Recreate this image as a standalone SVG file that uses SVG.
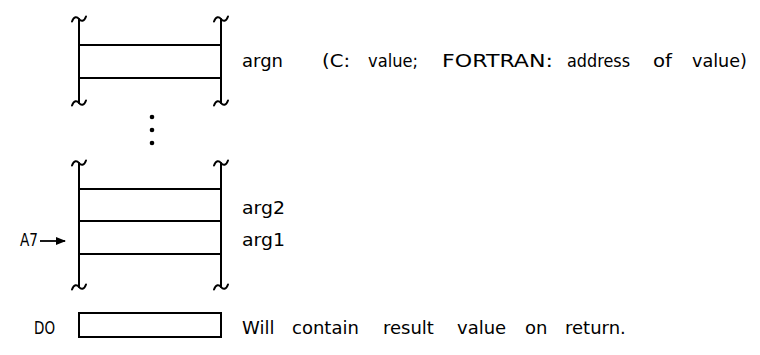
<svg xmlns="http://www.w3.org/2000/svg" xmlns:xlink="http://www.w3.org/1999/xlink" width="760" height="355" viewBox="0 0 760 355">
<style>
.ln{stroke:#000;stroke-width:2;fill:none;stroke-linecap:round}
.hl{stroke:#000;stroke-width:1.8;fill:none}
.tx{font-family:"DejaVu Sans","Liberation Sans",sans-serif;font-size:18px;fill:#000}
</style>
<defs>
<path id="tilde" d="M-7,2.5 C-5,-3 -2,-2.5 0,0 S5,3 7,-2.5" class="ln"/>
<marker id="ah" markerWidth="10" markerHeight="8" refX="9" refY="4" orient="auto" markerUnits="userSpaceOnUse">
<path d="M0,0 L10,4 L0,8 Z" fill="#000"/>
</marker>
</defs>
<rect width="760" height="355" fill="#fff"/>
<g id="stack-argn">
<line class="ln" x1="79" y1="19" x2="79" y2="103"/>
<line class="ln" x1="221" y1="19" x2="221" y2="103"/>
<use xlink:href="#tilde" x="79" y="19"/>
<use xlink:href="#tilde" x="221" y="19"/>
<use xlink:href="#tilde" x="79" y="103"/>
<use xlink:href="#tilde" x="221" y="103"/>
<line class="hl" x1="79" y1="45" x2="221" y2="45"/>
<line class="hl" x1="79" y1="78" x2="221" y2="78"/>
<text class="tx" x="242" y="67" textLength="41" lengthAdjust="spacingAndGlyphs">argn</text>
<text class="tx" x="322" y="67" textLength="28" lengthAdjust="spacingAndGlyphs">(C:</text>
<text class="tx" x="368" y="67" textLength="50" lengthAdjust="spacingAndGlyphs">value;</text>
<text class="tx" x="442" y="67" textLength="111" lengthAdjust="spacingAndGlyphs">FORTRAN:</text>
<text class="tx" x="567" y="67" textLength="63" lengthAdjust="spacingAndGlyphs">address</text>
<text class="tx" x="653" y="67" textLength="19" lengthAdjust="spacingAndGlyphs">of</text>
<text class="tx" x="692" y="67" textLength="55" lengthAdjust="spacingAndGlyphs">value)</text>
</g>
<g id="ellipsis">
<circle cx="152" cy="117" r="2.3" fill="#000"/>
<circle cx="152" cy="130" r="2.3" fill="#000"/>
<circle cx="152" cy="143" r="2.3" fill="#000"/>
</g>
<g id="stack-args">
<line class="ln" x1="79" y1="163" x2="79" y2="287"/>
<line class="ln" x1="221" y1="163" x2="221" y2="287"/>
<use xlink:href="#tilde" x="79" y="163"/>
<use xlink:href="#tilde" x="221" y="163"/>
<use xlink:href="#tilde" x="79" y="287"/>
<use xlink:href="#tilde" x="221" y="287"/>
<line class="hl" x1="79" y1="189" x2="221" y2="189"/>
<line class="hl" x1="79" y1="221" x2="221" y2="221"/>
<line class="hl" x1="79" y1="254" x2="221" y2="254"/>
<text class="tx" x="242" y="214" textLength="43" lengthAdjust="spacingAndGlyphs">arg2</text>
<text class="tx" x="242" y="246" textLength="43" lengthAdjust="spacingAndGlyphs">arg1</text>
</g>
<g id="A7">
<text class="tx" x="20" y="246" textLength="18" lengthAdjust="spacingAndGlyphs">A7</text>
</g>
<g id="D0">
<rect x="79" y="313" width="142" height="24" class="ln"/>
<text class="tx" x="34" y="334" textLength="21" lengthAdjust="spacingAndGlyphs">DO</text>
<text class="tx" x="242" y="334">
<tspan x="242">Will</tspan><tspan x="292">contain</tspan><tspan x="383">result</tspan><tspan x="457">value</tspan><tspan x="525">on</tspan><tspan x="565">return.</tspan>
</text>
</g>
<g id="connectors">
<line x1="40" y1="241" x2="65" y2="241" stroke="#000" stroke-width="1.8" marker-end="url(#ah)"/>
</g>
</svg>
